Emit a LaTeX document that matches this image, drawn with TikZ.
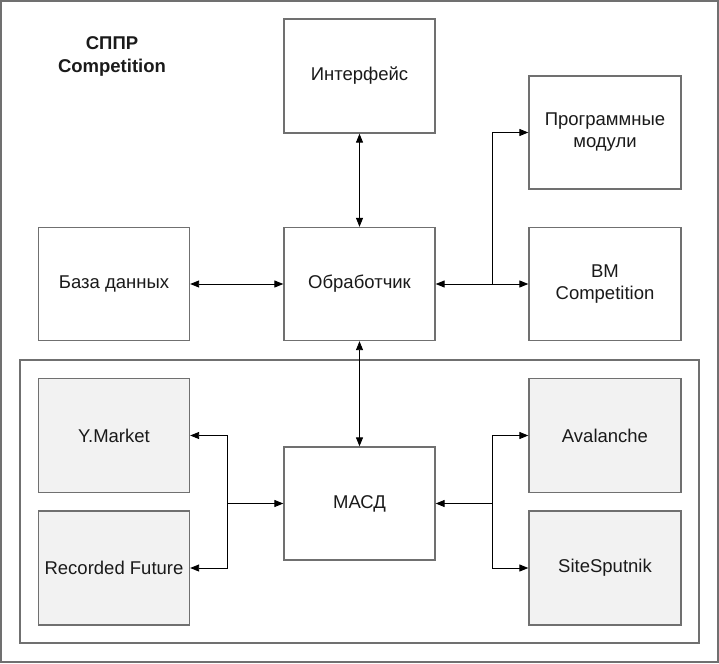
\documentclass[tikz,border=0pt]{standalone}
\usepackage{fontspec}
\setmainfont{Liberation Sans}
\usetikzlibrary{arrows.meta}
\definecolor{bordergray}{HTML}{707070}
\definecolor{fillgray}{HTML}{F2F2F2}
\definecolor{txt}{HTML}{1A1A1A}
\tikzset{
  box/.style={draw=bordergray, line width=1.3pt, fill=white, minimum width=151, minimum height=113,
    inner sep=0pt, align=center, font=\fontsize{18.5}{22}\selectfont, text=txt},
  graybox/.style={box, fill=fillgray},
  conn/.style={line width=0.9pt, draw=black},
  tip/.style={-{Triangle[length=9pt,width=7pt]}},
  tips/.style={{Triangle[length=9pt,width=7pt]}-{Triangle[length=9pt,width=7pt]}},
  frame/.style={draw=bordergray, line width=1.6pt}
}
\begin{document}
\begin{tikzpicture}[x=1pt,y=-1pt]
\useasboundingbox (0,0) rectangle (719,663);
\fill[white] (0,0) rectangle (719,663);
\draw[frame] (1,1) rectangle (718,662);
\draw[frame, line width=1.3pt] (20,360) rectangle (699,643);

\node[font=\bfseries\fontsize{18.5}{23}\selectfont, align=center, text=txt] (title) at (112,56) {СППР\\Competition};

\node[box, minimum height=114] (int) at (359.5,76) {Интерфейс};
\node[box, minimum width=152] (prog) at (605,132.5) {Программные\\модули};
\node[box] (db) at (114,284) {База данных};
\node[box] (obr) at (359.5,284) {Обработчик};
\node[box, minimum width=152] (bm) at (605,284) {BM\\Competition};
\node[graybox, minimum height=114] (ym) at (114,435.5) {Y.Market};
\node[graybox, minimum height=114] (rf) at (114,568) {Recorded Future};
\node[box] (masd) at (359.5,503.5) {МАСД};
\node[graybox, minimum width=152, minimum height=114] (av) at (605,435.5) {Avalanche};
\node[graybox, minimum width=152, minimum height=114] (ss) at (605,568) {SiteSputnik};

\coordinate (jr) at (492,284);
\coordinate (jl) at (227.5,503.5);
\coordinate (jm) at (492,503.5);

\draw[conn, tips] (int.south) -- (obr.north);
\draw[conn, tips] (db.east) -- (obr.west);
\draw[conn, tips] (obr.east) -- (bm.west);
\draw[conn, tip] (jr) |- (prog.west);
\draw[conn, tips] (obr.south) -- (masd.north);

\draw[conn, tip] (jl) -- (masd.west);
\draw[conn, tip] (jl) |- (ym.east);
\draw[conn, tip] (jl) |- (rf.east);

\draw[conn, tip] (jm) -- (masd.east);
\draw[conn, tip] (jm) |- (av.west);
\draw[conn, tip] (jm) |- (ss.west);
\end{tikzpicture}
\end{document}
